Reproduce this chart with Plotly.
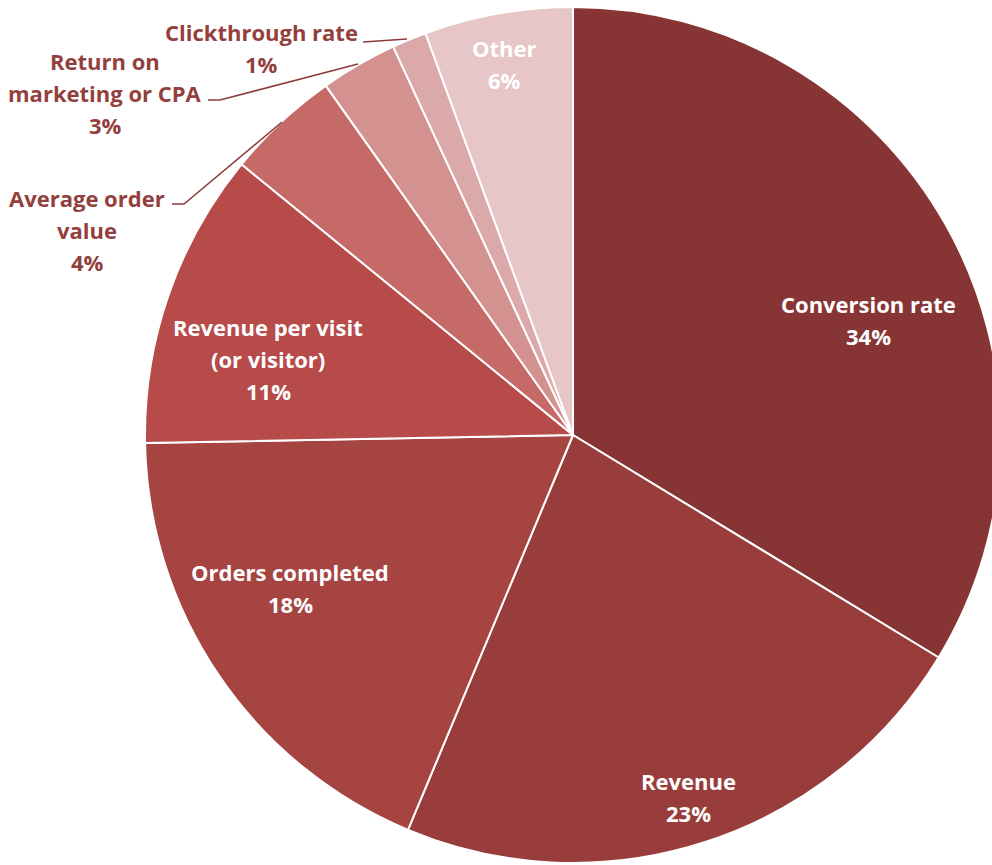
import plotly.graph_objects as go

# ---- data ----
categories = ["Conversion rate", "Revenue", "Orders completed", "Revenue per visit (or visitor)",
              "Average order value", "Return on marketing or CPA", "Clickthrough rate", "Other"]
values = [33.7, 22.6, 18.4, 11.2, 4.3, 2.9, 1.3, 5.6]
display_labels = ["Conversion rate", "Revenue", "Orders completed", "Revenue per visit<br>(or visitor)",
                  "Average order<br>value", "Return on<br>marketing or CPA", "Clickthrough rate", "Other"]

# ---- style ----
colors = ["#873434", "#983D3B", "#A64442", "#B74B49", "#C66A68", "#D39190", "#DBA9A9", "#E6C6C7"]
inside = [True, True, True, True, False, False, False, True]
# label block centres in pixels (x, y)
label_pos = [(868, 320), (688, 797), (290, 588), (268, 359), (87, 230), (105, 93), (261, 48), (504, 64)]
leaders = {
    4: [(172, 204), (184, 204), (282, 122)],
    5: [(208, 100), (220, 100), (358, 64)],
    6: [(363, 42), (407, 39)],
}

W, H = 1001, 865
FONT = "Open Sans"
LINE = 32

total = sum(values)
pcts = [f"{round(v / total * 100)}%" for v in values]

fig = go.Figure(go.Pie(
    labels=categories, values=values, sort=False, direction="clockwise", rotation=0,
    marker=dict(colors=colors, line=dict(color="white", width=2)),
    textinfo="none", hoverinfo="label+percent", showlegend=False,
    domain=dict(x=[145 / W, 1.0], y=[1 - 863 / H, 1 - 7 / H]),
))

def px(x):
    return x / W

def py(y):
    return 1 - y / H

annotations = []
for i, lab in enumerate(display_labels):
    lines = lab.split("<br>") + [pcts[i]]
    cx, cy = label_pos[i]
    n = len(lines)
    for k, t in enumerate(lines):
        yy = cy + (k - (n - 1) / 2) * LINE
        annotations.append(dict(
            x=px(cx), y=py(yy), xref="paper", yref="paper", text=t, showarrow=False,
            xanchor="center", yanchor="middle",
            font=dict(family=FONT, size=22, color="white" if inside[i] else "#933F3E", weight="bold"),
        ))

shapes = []
for i, pts in leaders.items():
    path = "M " + " L ".join(f"{px(x)},{py(y)}" for x, y in pts)
    shapes.append(dict(type="path", path=path, xref="paper", yref="paper",
                       line=dict(color="#8E3B3B", width=1.5)))

fig.update_layout(
    width=W, height=H, margin=dict(l=0, r=0, t=0, b=0),
    paper_bgcolor="white", plot_bgcolor="white",
    annotations=annotations, shapes=shapes,
)

fig.write_html("out.html", config={"displayModeBar": False},
               post_script="document.body.style.margin='0';document.body.style.overflow='hidden';document.documentElement.style.overflow='hidden';")
